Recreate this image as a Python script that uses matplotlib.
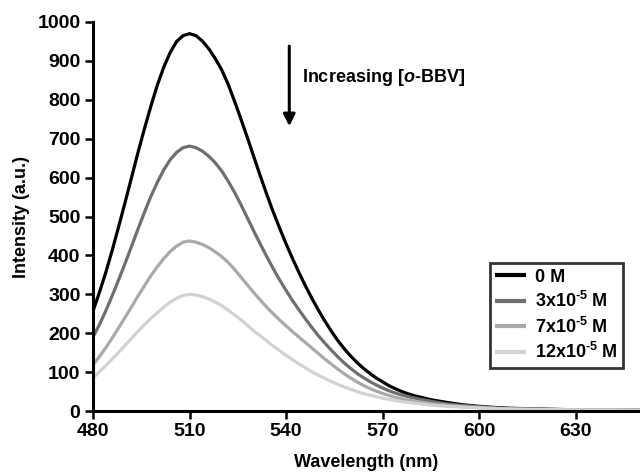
import matplotlib
matplotlib.use("Agg")
import matplotlib.pyplot as plt

plt.rcParams['font.family'] = ['Liberation Sans', 'DejaVu Sans']
plt.rcParams['font.weight'] = 'bold'
plt.rcParams['mathtext.fontset'] = 'custom'
plt.rcParams['mathtext.rm'] = 'Liberation Sans:bold'
plt.rcParams['mathtext.bf'] = 'Liberation Sans:bold'
plt.rcParams['mathtext.it'] = 'Liberation Sans:bold:italic'

wavelength = [480, 482, 484, 486, 488, 490, 492, 494, 496, 498,
              500, 502, 504, 506, 508, 510, 512, 514, 516, 518,
              520, 522, 524, 526, 528, 530, 532, 534, 536, 538,
              540, 542, 544, 546, 548, 550, 552, 554, 556, 558,
              560, 562, 564, 566, 568, 570, 572, 574, 576, 578,
              580, 585, 590, 595, 600, 605, 610, 620, 630, 640, 650]

i_0M = [257, 305, 357, 414, 475, 537, 601, 665, 726, 784,
        838, 884, 922, 950, 965, 970, 965, 951, 931, 906,
        877, 840, 796, 750, 702, 653, 604, 557, 512, 470,
        430, 392, 356, 322, 290, 260, 232, 206, 182, 161,
        142, 125, 110, 97, 85, 75, 65, 57, 50, 44,
        39, 29, 22, 16, 12, 9, 7, 5, 3, 2, 2]
i_3e5 = [190, 222, 258, 297, 338, 380, 424, 468, 511, 552,
         588, 620, 646, 665, 677, 681, 677, 668, 655, 638,
         617, 591, 562, 530, 496, 462, 429, 397, 366, 337,
         310, 284, 260, 237, 215, 194, 175, 157, 140, 124,
         110, 97, 86, 76, 67, 59, 52, 46, 41, 37,
         33, 25, 18, 14, 11, 8, 6, 4, 3, 2, 2]
i_7e5 = [118, 140, 163, 188, 214, 241, 268, 296, 322, 348,
         371, 392, 410, 424, 434, 437, 434, 428, 420, 409,
         397, 382, 364, 344, 324, 304, 285, 267, 250, 234,
         219, 204, 190, 176, 162, 148, 134, 121, 108, 96,
         85, 75, 66, 58, 51, 45, 40, 35, 31, 28,
         25, 19, 15, 11, 9, 7, 5, 4, 3, 2, 2]
i_12e5 = [85, 101, 117, 134, 151, 169, 187, 205, 222, 238,
          253, 267, 280, 290, 297, 300, 298, 294, 288, 280,
          271, 259, 247, 234, 220, 206, 193, 180, 167, 155,
          143, 132, 121, 111, 101, 92, 84, 76, 69, 62,
          56, 50, 45, 41, 37, 33, 30, 27, 24, 22,
          20, 15, 12, 10, 8, 6, 5, 4, 3, 3, 2]

series_labels = ['0 M', '3x10$^{\u20105}$ M', '7x10$^{\u20105}$ M', '12x10$^{\u20105}$ M']
series_colors = ['#000000', '#6f6f6f', '#a9a9a9', '#d2d2d2']

x_ticks = [480, 510, 540, 570, 600, 630]
y_ticks = [0, 100, 200, 300, 400, 500, 600, 700, 800, 900, 1000]

fig = plt.figure(figsize=(6.4, 4.76), dpi=100)
ax = fig.add_axes([93/640, 1 - 411/476, (640 - 93)/640, (411 - 22)/476])

for ys, lab, col in zip([i_0M, i_3e5, i_7e5, i_12e5], series_labels, series_colors):
    ax.plot(wavelength, ys, color=col, lw=2.3, label=lab, solid_capstyle='butt')

ax.set_xlim(480, 650)
ax.set_ylim(0, 1000)
ax.set_xticks(x_ticks)
ax.set_yticks(y_ticks)
for s in ['top', 'right']:
    ax.spines[s].set_visible(False)
for s in ['left', 'bottom']:
    ax.spines[s].set_linewidth(2.2)
ax.tick_params(direction='out', length=6, width=1.8, labelsize=14, pad=3)
for lbl in ax.get_xticklabels() + ax.get_yticklabels():
    lbl.set_fontweight('bold')

ax.set_xlabel('Wavelength (nm)', fontsize=13, fontweight='bold', labelpad=10)
ax.set_ylabel('Intensity (a.u.)', fontsize=13, fontweight='bold', labelpad=5)

ax.annotate('', xy=(541, 725), xytext=(541, 945),
            arrowprops=dict(arrowstyle='-|>,head_length=0.7,head_width=0.35',
                            color='black', lw=2.2))
ax.text(545, 858, r'Increasing [$\mathit{o}$-BBV]', fontsize=13, fontweight='bold',
        va='center', ha='left')

leg = ax.legend(loc='upper right', bbox_to_anchor=(0.969, 0.380), borderaxespad=0,
                frameon=True, fancybox=False, edgecolor='black',
                handlelength=1.7, handletextpad=0.5, labelspacing=0.3,
                borderpad=0.3, prop={'weight': 'bold', 'size': 13})
leg.get_frame().set_linewidth(2.0)
for line in leg.get_lines():
    line.set_linewidth(3)

fig.savefig('out.png', dpi=100)
